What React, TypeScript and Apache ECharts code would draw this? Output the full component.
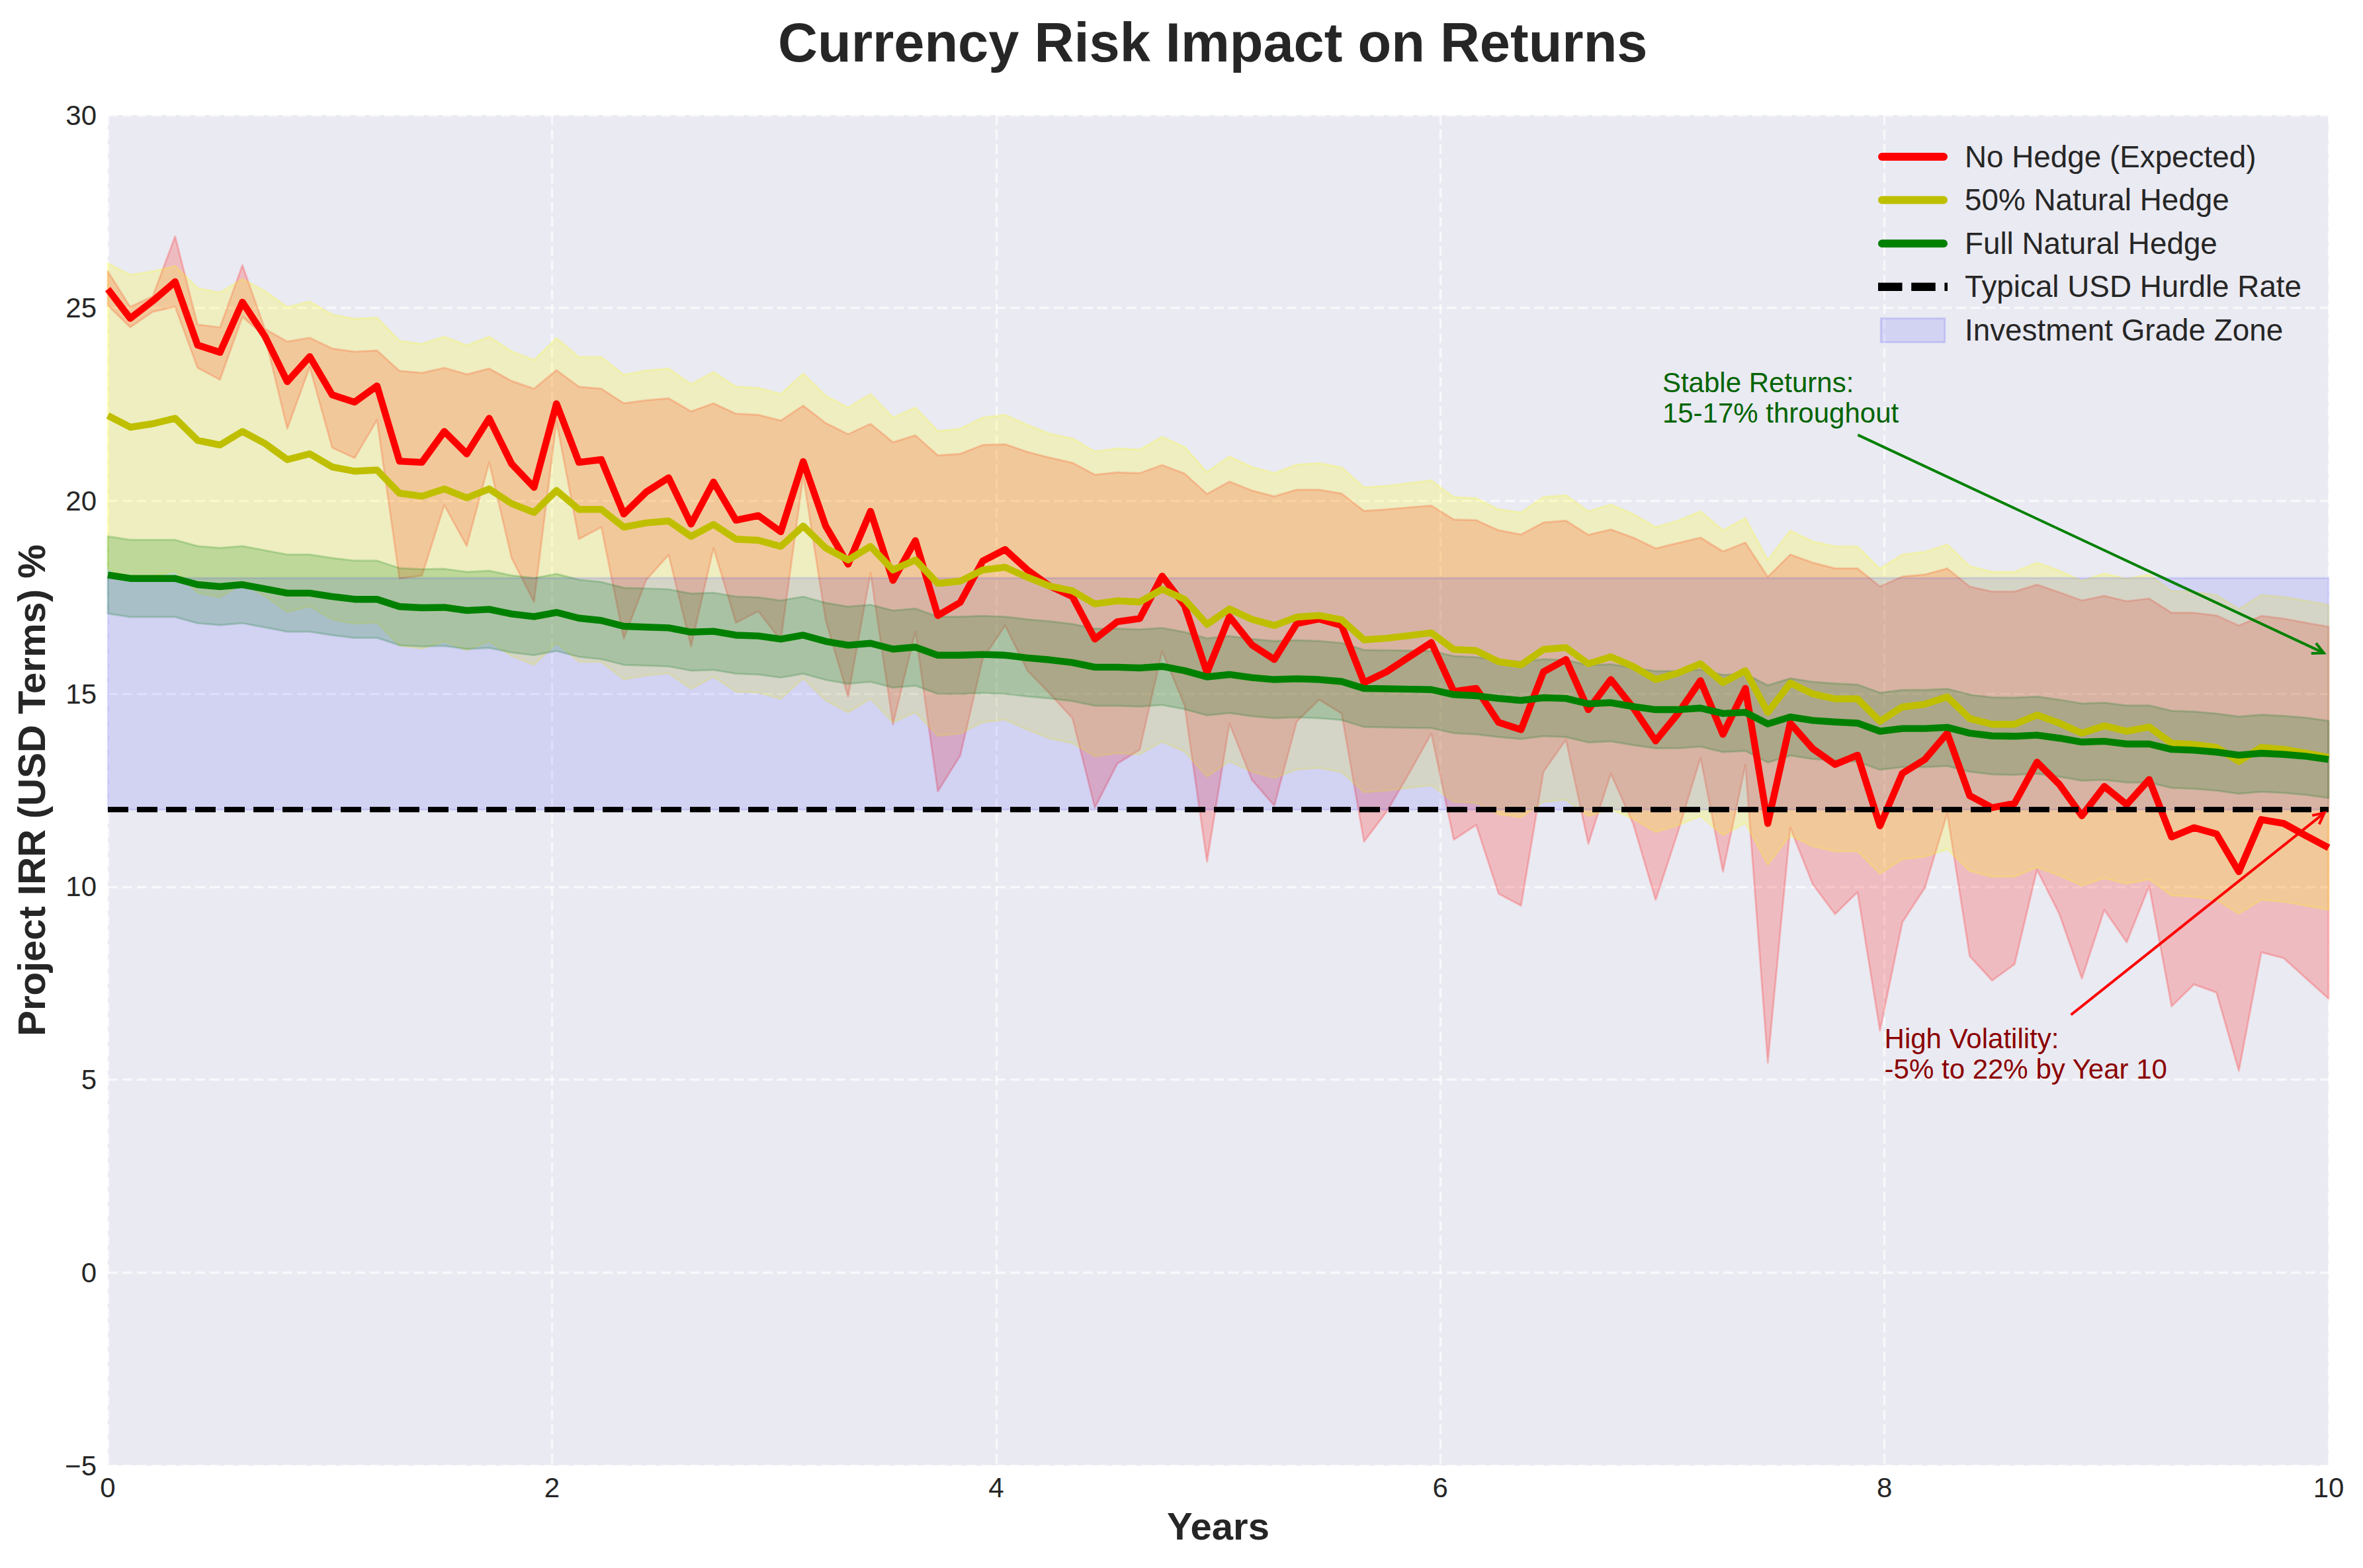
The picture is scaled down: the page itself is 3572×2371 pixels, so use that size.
import React, { useEffect, useRef } from 'react';
import * as echarts from 'echarts';

const N_POINTS = 100;
const YEARS: number[] = Array.from({ length: N_POINTS }, (_, i) => (i * 10) / (N_POINTS - 1));

const NO_HEDGE = [
  25.49, 24.73, 25.18, 25.68, 24.04, 23.85, 25.15, 24.27, 23.09, 23.74,
  22.75, 22.56, 22.98, 21.03, 21.0, 21.8, 21.22, 22.14, 20.96, 20.35,
  22.52, 21.0, 21.07, 19.66, 20.23, 20.6, 19.4, 20.49, 19.5, 19.62,
  19.2, 21.02, 19.35, 18.36, 19.73, 17.94, 18.97, 17.03, 17.37, 18.44,
  18.74, 18.21, 17.79, 17.52, 16.42, 16.87, 16.95, 18.05, 17.29, 15.55,
  17.0, 16.27, 15.89, 16.82, 16.94, 16.77, 15.29, 15.57, 15.95, 16.33,
  15.06, 15.14, 14.26, 14.07, 15.57, 15.89, 14.59, 15.37, 14.64, 13.78,
  14.49, 15.34, 13.95, 15.14, 11.64, 14.24, 13.58, 13.17, 13.41, 11.58,
  12.94, 13.3, 13.98, 12.36, 12.05, 12.16, 13.23, 12.65, 11.84, 12.6,
  12.13, 12.78, 11.29, 11.53, 11.37, 10.39, 11.74, 11.64, 11.32, 11.01,
];

const NO_HEDGE_UPPER = [
  25.95, 25.03, 25.3, 26.86, 24.57, 24.5, 26.11, 24.46, 24.13, 24.23,
  23.95, 23.87, 23.9, 23.37, 23.32, 23.45, 23.28, 23.43, 23.11, 22.91,
  23.39, 22.96, 22.91, 22.53, 22.61, 22.66, 22.32, 22.53, 22.26, 22.23,
  22.08, 22.47, 22.02, 21.73, 22.0, 21.52, 21.7, 21.18, 21.22, 21.45,
  21.47, 21.27, 21.12, 20.99, 20.68, 20.74, 20.72, 20.93, 20.71, 20.18,
  20.5, 20.27, 20.12, 20.29, 20.29, 20.19, 19.74, 19.78, 19.83, 19.88,
  19.52, 19.5, 19.24, 19.13, 19.44, 19.49, 19.12, 19.26, 19.05, 18.77,
  18.91, 19.05, 18.69, 18.92, 18.03, 18.61, 18.4, 18.25, 18.25, 17.78,
  18.04, 18.09, 18.25, 17.78, 17.65, 17.65, 17.83, 17.63, 17.42, 17.54,
  17.4, 17.47, 17.1, 17.1, 17.03, 16.77, 17.02, 16.95, 16.84, 16.74,
];

const NO_HEDGE_LOWER = [
  25.07, 24.5, 24.9, 25.03, 23.45, 23.14, 24.77, 24.27, 21.87, 23.47,
  21.38, 21.11, 22.1, 17.99, 18.06, 19.89, 18.83, 21.0, 18.52, 17.38,
  22.06, 19.01, 19.32, 16.43, 17.95, 18.6, 16.23, 18.78, 16.84, 17.14,
  16.38, 20.64, 16.91, 14.93, 18.13, 14.21, 16.61, 12.47, 13.4, 15.9,
  16.77, 15.6, 15.0, 14.37, 12.05, 13.19, 13.55, 16.1, 14.7, 10.65,
  14.23, 12.77, 12.1, 14.28, 14.85, 14.49, 11.17, 11.94, 12.93, 13.97,
  11.22, 11.6, 9.82, 9.51, 12.98, 13.81, 11.11, 12.93, 11.63, 9.66,
  11.43, 13.34, 10.39, 13.15, 5.44, 11.53, 10.07, 9.29, 9.86, 6.27,
  9.08, 9.97, 11.9, 8.2, 7.57, 7.99, 10.44, 9.29, 7.62, 9.4,
  8.56, 10.02, 6.9, 7.47, 7.26, 5.23, 8.3, 8.15, 7.62, 7.1,
];

const HALF_HEDGE = [
  22.21, 21.91, 22.0, 22.14, 21.57, 21.45, 21.8, 21.49, 21.07, 21.22,
  20.88, 20.77, 20.8, 20.2, 20.12, 20.31, 20.08, 20.31, 19.93, 19.7,
  20.27, 19.78, 19.78, 19.32, 19.43, 19.48, 19.08, 19.39, 19.01, 18.98,
  18.82, 19.35, 18.78, 18.47, 18.82, 18.21, 18.47, 17.86, 17.92, 18.21,
  18.28, 18.02, 17.79, 17.67, 17.33, 17.41, 17.38, 17.71, 17.45, 16.8,
  17.2, 16.93, 16.77, 16.99, 17.03, 16.92, 16.4, 16.44, 16.51, 16.58,
  16.15, 16.12, 15.83, 15.75, 16.15, 16.2, 15.78, 15.96, 15.71, 15.37,
  15.54, 15.78, 15.29, 15.6, 14.52, 15.28, 15.0, 14.87, 14.87, 14.29,
  14.66, 14.73, 14.92, 14.36, 14.21, 14.21, 14.45, 14.24, 13.98, 14.17,
  14.03, 14.14, 13.72, 13.69, 13.61, 13.25, 13.61, 13.56, 13.46, 13.35,
];
const HALF_HEDGE_BAND = 3.95;

const FULL_HEDGE = [
  18.08, 17.99, 17.99, 17.99, 17.83, 17.78, 17.83, 17.72, 17.61, 17.61,
  17.52, 17.45, 17.45, 17.26, 17.23, 17.24, 17.16, 17.19, 17.07, 17.0,
  17.11, 16.96, 16.9, 16.75, 16.73, 16.71, 16.6, 16.62, 16.52, 16.5,
  16.42, 16.52, 16.36, 16.26, 16.31, 16.16, 16.21, 16.0, 16.0, 16.02,
  16.0, 15.93, 15.88, 15.81, 15.69, 15.69, 15.67, 15.71, 15.6, 15.44,
  15.5, 15.42, 15.37, 15.39, 15.37, 15.32, 15.14, 15.13, 15.12, 15.11,
  14.98, 14.95, 14.88, 14.83, 14.9, 14.88, 14.74, 14.77, 14.67, 14.59,
  14.59, 14.63, 14.49, 14.52, 14.22, 14.4, 14.31, 14.27, 14.24, 14.03,
  14.1, 14.1, 14.13, 13.98, 13.91, 13.9, 13.93, 13.85, 13.75, 13.77,
  13.7, 13.7, 13.56, 13.54, 13.49, 13.41, 13.46, 13.43, 13.38, 13.3,
];
const FULL_HEDGE_BAND = 1.0;

const HURDLE_RATE = 12;
const ZONE_RANGE = [12, 18];

const X_TICKS = { min: 0, max: 10, interval: 2 };
const Y_TICKS = { min: -5, max: 30, interval: 5 };

const SERIES_NAMES = [
  'No Hedge (Expected)',
  '50% Natural Hedge',
  'Full Natural Hedge',
  'Typical USD Hurdle Rate',
  'Investment Grade Zone',
];

const ANNOTATION_TEXTS = ['Stable Returns:\n15-17% throughout', 'High Volatility:\n-5% to 22% by Year 10'];
const ANNOTATION_TEXT_POS = [[7, 22], [8, 5]];
const ANNOTATION_ARROW_FROM = [[7.88, 21.71], [8.84, 6.68]];
const ANNOTATION_ARROW_TO = [[10, 16], [10, 12]];
const ANNOTATION_TEXT_COLORS = ['#006400', '#8B0000'];
const ANNOTATION_ARROW_COLORS = ['#008000', '#ff0000'];

const FONT = '"Liberation Sans", Arial, Helvetica, sans-serif';
const TEXT_COLOR = '#262626';

const LINE_ICON = 'path://M6,0H99A6,6 0 0 1 99,12H6A6,6 0 0 1 6,0Z';
const DASH_ICON = 'path://M0,0H32V11H0Z M44,0H76V11H44Z M88,0H92V11H88Z';
const RECT_ICON = 'path://M0,0H94V35H0Z';

function bandSeries(lower: number[], upper: number[], fill: string, stroke: string, z: number) {
  return {
    type: 'custom',
    silent: true,
    z,
    data: YEARS.map((x, i) => [x, lower[i], upper[i]]),
    encode: { x: 0, y: [1, 2] },
    renderItem: (params: any, api: any) => {
      if (params.dataIndex !== 0) return null;
      const top = YEARS.map((x, i) => api.coord([x, upper[i]]));
      const bottom = YEARS.map((x, i) => api.coord([x, lower[i]])).reverse();
      return {
        type: 'polygon',
        shape: { points: top.concat(bottom) },
        style: { fill, stroke, lineWidth: 3, lineJoin: 'round' },
      };
    },
  };
}

function lineSeries(name: string, values: number[], color: string) {
  return {
    type: 'line',
    name,
    z: 5,
    data: YEARS.map((x, i) => [x, values[i]]),
    symbol: 'none',
    showSymbol: false,
    lineStyle: { color, width: 10.4, join: 'round', cap: 'butt' },
    itemStyle: { color },
  };
}

export default function App() {
  const ref = useRef<HTMLDivElement>(null);

  useEffect(() => {
    document.body.style.margin = '0';
    if (!ref.current) return;
    const chart = echarts.init(ref.current, undefined, { renderer: 'svg' });

    const halfUpper = HALF_HEDGE.map((v) => v + HALF_HEDGE_BAND);
    const halfLower = HALF_HEDGE.map((v) => v - HALF_HEDGE_BAND);
    const fullUpper = FULL_HEDGE.map((v) => v + FULL_HEDGE_BAND);
    const fullLower = FULL_HEDGE.map((v) => v - FULL_HEDGE_BAND);

    const option: any = {
      animation: false,
      backgroundColor: '#ffffff',
      textStyle: { fontFamily: FONT },
      title: {
        text: 'Currency Risk Impact on Returns',
        left: 1176,
        top: 23,
        padding: 0,
        textStyle: { fontSize: 83, fontWeight: 'bold', color: TEXT_COLOR, fontFamily: FONT },
      },
      grid: {
        left: 163,
        right: 52,
        top: 174,
        bottom: 155,
        show: true,
        backgroundColor: '#EAEAF2',
        borderWidth: 0,
      },
      legend: {
        orient: 'vertical',
        left: 2834,
        top: 209,
        itemWidth: 105,
        itemHeight: 36,
        itemGap: 19.6,
        selectedMode: false,
        textStyle: {
          fontSize: 45.8,
          lineHeight: 36,
          color: TEXT_COLOR,
          fontFamily: FONT,
          padding: [0, 0, 0, 21],
        },
        data: [
          { name: SERIES_NAMES[0], icon: LINE_ICON, itemStyle: { color: '#ff0000', borderWidth: 0 } },
          { name: SERIES_NAMES[1], icon: LINE_ICON, itemStyle: { color: '#bfbf00', borderWidth: 0 } },
          { name: SERIES_NAMES[2], icon: LINE_ICON, itemStyle: { color: '#008000', borderWidth: 0 } },
          { name: SERIES_NAMES[3], icon: DASH_ICON, itemStyle: { color: '#000000', borderWidth: 0 } },
          {
            name: SERIES_NAMES[4],
            icon: RECT_ICON,
            itemStyle: { color: 'rgba(0,0,255,0.1)', borderColor: 'rgba(0,0,255,0.12)', borderWidth: 3 },
          },
        ],
      },
      xAxis: {
        type: 'value',
        min: X_TICKS.min,
        max: X_TICKS.max,
        interval: X_TICKS.interval,
        name: 'Years',
        nameLocation: 'middle',
        nameGap: 62,
        nameTextStyle: { fontSize: 58, fontWeight: 'bold', color: TEXT_COLOR, fontFamily: FONT },
        axisLine: { show: false },
        axisTick: { show: false },
        axisLabel: { fontSize: 42, color: TEXT_COLOR, margin: 12, fontFamily: FONT },
        splitLine: { show: true, lineStyle: { color: 'rgba(255,255,255,0.65)', width: 3.3, type: [15, 7] } },
      },
      yAxis: {
        type: 'value',
        min: Y_TICKS.min,
        max: Y_TICKS.max,
        interval: Y_TICKS.interval,
        name: 'Project IRR (USD Terms) %',
        nameLocation: 'middle',
        nameGap: 87,
        nameTextStyle: { fontSize: 58, fontWeight: 'bold', color: TEXT_COLOR, fontFamily: FONT },
        axisLine: { show: false },
        axisTick: { show: false },
        axisLabel: {
          fontSize: 42,
          color: TEXT_COLOR,
          margin: 17,
          fontFamily: FONT,
          formatter: (v: number) => (v < 0 ? '\u2212' + Math.abs(v) : String(v)),
        },
        splitLine: { show: true, lineStyle: { color: 'rgba(255,255,255,0.65)', width: 3.3, type: [15, 7] } },
      },
      series: [
        bandSeries(NO_HEDGE_LOWER, NO_HEDGE_UPPER, 'rgba(255,0,0,0.2)', 'rgba(255,0,0,0.2)', 2),
        bandSeries(halfLower, halfUpper, 'rgba(255,255,0,0.2)', 'rgba(255,255,0,0.2)', 2),
        bandSeries(fullLower, fullUpper, 'rgba(0,128,0,0.2)', 'rgba(0,128,0,0.2)', 2),
        {
          type: 'custom',
          name: SERIES_NAMES[4],
          silent: true,
          z: 3,
          data: [[X_TICKS.min, ZONE_RANGE[0], X_TICKS.max, ZONE_RANGE[1]]],
          encode: { x: [0, 2], y: [1, 3] },
          itemStyle: { color: 'rgba(0,0,255,0.1)' },
          renderItem: (params: any, api: any) => {
            const p0 = api.coord([api.value(0), api.value(3)]);
            const p1 = api.coord([api.value(2), api.value(1)]);
            return {
              type: 'rect',
              shape: { x: p0[0], y: p0[1], width: p1[0] - p0[0], height: p1[1] - p0[1] },
              style: { fill: 'rgba(0,0,255,0.1)', stroke: 'rgba(0,0,255,0.1)', lineWidth: 3 },
            };
          },
        },
        lineSeries(SERIES_NAMES[0], NO_HEDGE, '#ff0000'),
        lineSeries(SERIES_NAMES[1], HALF_HEDGE, '#bfbf00'),
        lineSeries(SERIES_NAMES[2], FULL_HEDGE, '#008000'),
        {
          type: 'line',
          name: SERIES_NAMES[3],
          z: 6,
          data: [[X_TICKS.min, HURDLE_RATE], [X_TICKS.max, HURDLE_RATE]],
          symbol: 'none',
          showSymbol: false,
          lineStyle: { color: '#000000', width: 8.3, type: [31, 13], cap: 'butt' },
          itemStyle: { color: '#000000' },
        },
        {
          type: 'custom',
          silent: true,
          z: 8,
          data: ANNOTATION_TEXT_POS.map((p) => [p[0], p[1]]),
          encode: { x: 0, y: 1 },
          renderItem: (params: any, api: any) => {
            const i = params.dataIndex;
            const tp = api.coord(ANNOTATION_TEXT_POS[i]);
            const a0 = api.coord(ANNOTATION_ARROW_FROM[i]);
            const a1raw = api.coord(ANNOTATION_ARROW_TO[i]);
            const dx = a1raw[0] - a0[0];
            const dy = a1raw[1] - a0[1];
            const len = Math.sqrt(dx * dx + dy * dy);
            const ux = dx / len;
            const uy = dy / len;
            const shrink = 8;
            const a1 = [a1raw[0] - ux * shrink, a1raw[1] - uy * shrink];
            const hl = 17;
            const hw = 8.5;
            const px = -uy;
            const py = ux;
            const left = [a1[0] - ux * hl + px * hw, a1[1] - uy * hl + py * hw];
            const right = [a1[0] - ux * hl - px * hw, a1[1] - uy * hl - py * hw];
            const col = ANNOTATION_ARROW_COLORS[i];
            return {
              type: 'group',
              children: [
                {
                  type: 'line',
                  shape: { x1: a0[0], y1: a0[1], x2: a1[0], y2: a1[1] },
                  style: { stroke: col, lineWidth: 4 },
                },
                {
                  type: 'polyline',
                  shape: { points: [left, a1, right] },
                  style: { stroke: col, lineWidth: 4, fill: 'none' },
                },
                {
                  type: 'text',
                  x: tp[0],
                  y: tp[1] + 7,
                  style: {
                    text: ANNOTATION_TEXTS[i],
                    fill: ANNOTATION_TEXT_COLORS[i],
                    fontSize: 42,
                    fontFamily: FONT,
                    lineHeight: 46,
                    align: 'left',
                    verticalAlign: 'bottom',
                  },
                },
              ],
            };
          },
        },
      ],
    };

    chart.setOption(option);
    return () => {
      chart.dispose();
    };
  }, []);

  return <div ref={ref} style={{ width: 3572, height: 2371, overflow: 'hidden' }} />;
}
